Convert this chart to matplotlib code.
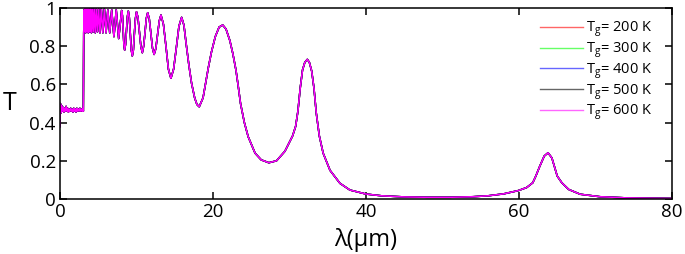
import matplotlib
matplotlib.use('Agg')
import matplotlib.pyplot as plt

plt.rcParams['font.family'] = ['Open Sans', 'DejaVu Sans']
plt.rcParams['mathtext.fontset'] = 'custom'
plt.rcParams['mathtext.rm'] = 'Open Sans'
plt.rcParams['mathtext.default'] = 'regular'

# 溫度與顏色
temps = [200, 300, 400, 500, 600]
colors = ['#ff0000', '#00ff00', '#0000ff', '#000000', '#ff00ff']

# 波長 (μm) 與穿透率 T
lam = [
    0.0, 0.05, 0.12, 0.2, 0.3, 0.4, 0.5, 0.6, 0.7, 0.8, 0.9, 1.0, 1.1, 1.2,
    1.3, 1.4, 1.5, 1.6, 1.7, 1.8, 1.9, 2.0, 2.1, 2.2, 2.3, 2.4, 2.5, 2.6,
    2.7, 2.8, 2.9, 3.0, 3.05, 3.1,
    3.15, 3.2, 3.27, 3.35, 3.43, 3.52, 3.6, 3.7, 3.8, 3.9, 4.0, 4.11, 4.22,
    4.35, 4.47, 4.61, 4.75, 4.9, 5.05, 5.22, 5.4, 5.6, 5.8, 6.02, 6.25, 6.5,
    6.76, 7.05, 7.35, 7.67, 8.06,
    8.16, 8.255, 8.35, 8.45, 8.57, 8.69, 8.81, 8.93, 9.06, 9.19, 9.32, 9.45,
    9.59, 9.72, 9.86, 10.0, 10.19, 10.38, 10.57, 10.76, 10.93, 11.11, 11.28,
    11.46, 11.67, 11.88, 12.09, 12.3, 12.52, 12.75, 12.98, 13.2, 13.52,
    13.85, 14.17, 14.5, 14.85, 15.2, 15.55, 15.9,
    16.2, 16.5, 16.85, 17.2, 17.6, 17.9, 18.2, 18.7, 19.0, 19.4, 19.8, 20.3,
    20.8, 21.27, 21.7, 22.2, 22.6, 23.0, 23.3, 23.6, 24.1, 24.6, 25.5, 26.3,
    27.3, 28.3, 29.4, 30.4, 30.8, 31.1, 31.4, 31.7, 32.0, 32.33, 32.6, 32.9,
    33.2, 33.5, 33.9, 34.4, 35.3, 36.6, 37.9, 40.0, 42.0, 45.0, 48.0, 51.0,
    54.0, 56.0, 58.0, 59.9, 61.0, 61.8, 62.2, 62.7, 63.3, 63.8, 64.3, 64.7,
    65.0, 65.6, 66.5, 68.0, 70.6, 74.0, 80.0,
]
T = [
    0.38, 0.50, 0.45, 0.49, 0.46, 0.48, 0.455, 0.475, 0.46, 0.485, 0.46,
    0.475, 0.455, 0.47, 0.46, 0.475, 0.46, 0.47, 0.455, 0.475, 0.46, 0.47,
    0.455, 0.475, 0.46, 0.47, 0.46, 0.475, 0.46, 0.47, 0.46, 0.475, 0.46, 0.87,
    0.99, 0.88, 1.0, 0.87, 0.995, 0.88, 1.0, 0.87, 0.995, 0.875, 1.0, 0.87,
    0.995, 0.875, 1.0, 0.87, 0.995, 0.875, 0.995, 0.87, 0.995, 0.87, 0.995,
    0.87, 0.99, 0.87, 0.99, 0.85, 0.99, 0.84, 0.987,
    0.96, 0.88, 0.81, 0.78, 0.81, 0.88, 0.955, 0.984, 0.95, 0.865, 0.78,
    0.749, 0.78, 0.865, 0.945, 0.98, 0.95, 0.873, 0.80, 0.766, 0.80, 0.87,
    0.945, 0.975, 0.943, 0.866, 0.79, 0.757, 0.787, 0.86, 0.933, 0.963,
    0.915, 0.80, 0.68, 0.632, 0.68, 0.79, 0.905, 0.951,
    0.91, 0.81, 0.70, 0.606, 0.53, 0.495, 0.483, 0.53, 0.60, 0.69, 0.77,
    0.85, 0.90, 0.911, 0.89, 0.83, 0.76, 0.675, 0.59, 0.50, 0.40, 0.326,
    0.24, 0.205, 0.19, 0.20, 0.25, 0.33, 0.38, 0.46, 0.58, 0.675, 0.715,
    0.731, 0.715, 0.67, 0.58, 0.45, 0.33, 0.24, 0.15, 0.082, 0.047, 0.026,
    0.017, 0.011, 0.009, 0.009, 0.012, 0.017, 0.027, 0.044, 0.06, 0.085,
    0.12, 0.17, 0.225, 0.242, 0.215, 0.16, 0.12, 0.085, 0.05, 0.025, 0.012,
    0.006, 0.003,
]

xticks = [0, 20, 40, 60, 80]
yticks = [0, 0.2, 0.4, 0.6, 0.8, 1]
ytick_labels = ['0', '0.2', '0.4', '0.6', '0.8', '1']

fig = plt.figure(figsize=(6.85, 2.54), dpi=100)
ax = fig.add_axes([0.0876, 0.2165, 0.8934, 0.752])

for tg, c in zip(temps, colors):
    ax.plot(lam, T, color=c, lw=1.1, label=r'T$_g$= %d K' % tg)

ax.set_xlim(0, 80)
ax.set_ylim(0, 1)
ax.set_xticks(xticks)
ax.set_yticks(yticks)
ax.set_yticklabels(ytick_labels)
ax.tick_params(direction='in', top=True, right=True, length=5, width=1.1,
               labelsize=13.5, pad=3)
for s in ax.spines.values():
    s.set_linewidth(1.1)

ax.set_xlabel('λ(μm)', fontsize=17, labelpad=5)
ax.set_ylabel('T', fontsize=18, labelpad=14, rotation=0, va='center')

leg = ax.legend(loc='upper right', bbox_to_anchor=(0.987, 1.0),
                frameon=False, fontsize=10.5,
                handlelength=2.9, handletextpad=0.25, labelspacing=0.08,
                borderaxespad=0.5, borderpad=0.3)
for h in leg.get_lines():
    h.set_linewidth(1.0)
    h.set_alpha(0.6)

fig.savefig('out.png', dpi=100)
